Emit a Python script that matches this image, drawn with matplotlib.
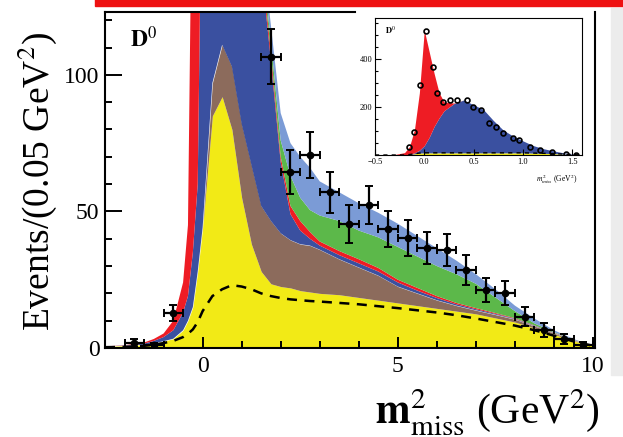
import matplotlib
matplotlib.use("Agg")
import matplotlib.pyplot as plt
import numpy as np
from matplotlib.patches import Rectangle

plt.rcParams['font.family'] = 'serif'
plt.rcParams['font.serif'] = ['Liberation Serif', 'DejaVu Serif']
plt.rcParams['mathtext.fontset'] = 'stix'

# missing-mass-squared grid (GeV^2) for the fitted components
m2_grid = [-2.5, -2.0, -1.5, -1.25, -1.0, -0.75, -0.5, -0.375, -0.25, -0.125,
           0.0, 0.25, 0.5, 0.75, 1.0, 1.25, 1.5, 1.75, 2.0, 2.25, 2.5, 2.75,
           3.0, 3.5, 4.0, 4.5, 5.0, 5.5, 6.0, 6.5, 7.0, 7.5, 8.0, 8.5, 9.0,
           9.5, 10.0]

# stacked fit components, bottom to top
comb_bkg = [0.6, 0.8, 1.2, 1.7, 2.5, 3.4, 6.5, 10.0, 15.0, 28.0, 44.0, 85.0,
            92.0, 80.0, 55.0, 38.0, 28.0, 23.5, 22.5, 22.0, 21.0, 20.5, 20.0,
            19.5, 18.5, 17.5, 16.5, 15.5, 14.5, 13.5, 12.5, 11.0, 9.5, 7.3,
            5.0, 2.6, 0.8]
other_bkg = [0, 0, 0, 0, 0, 0, 0, 0, 0, 0, 0, 12, 19, 23, 27, 29, 24, 23,
             19.5, 17.5, 17, 17, 16, 13, 11, 9, 6, 4.5, 3, 2, 1.3, 1.2, 1.0,
             0.7, 0.4, 0.2, 0]
d_lnu = [0, 0.1, 0.4, 0.9, 1.5, 3.1, 6.5, 9, 20, 32, 156, 203, 209, 197, 178,
         133, 88, 58.5, 26, 9.5, 5, 2.5, 1.5, 1.5, 1.5, 1.5, 1.5, 1.0, 0.8,
         0.5, 0.4, 0.3, 0.2, 0.2, 0.1, 0, 0]
dstar_lnu = [0, 0.1, 0.4, 0.7, 1.3, 3.5, 11, 26, 165, 200, 100, 40, 30, 30,
             30, 30, 3, 3, 2, 3, 3.5, 2.5, 1.5, 1.5, 1.5, 1.3, 1.0, 1.0, 0.7,
             0.5, 0.4, 0.3, 0.2, 0.1, 0.1, 0.1, 0]
d_taunu = [0, 0, 0, 0, 0, 0, 0, 0, 0, 0, 0, 0, 0, 0, 0, 0, 3, 4, 6, 11, 8.5,
           8, 9.5, 11, 10.5, 11.2, 12, 11.5, 11, 10.5, 8.9, 5.7, 2.6, 0.7,
           0.2, 0.1, 0]
dstar_taunu = [0, 0, 0, 0, 0, 0, 0, 0, 0, 0, 0, 0, 0, 0, 0, 0, 4, 6, 10, 12,
               15, 15.5, 12.5, 10.5, 10, 9, 8.5, 7.5, 6.5, 5, 3.5, 3, 2, 1.8,
               0.7, 0.3, 0]
comb_dashed = [0.3, 0.4, 0.8, 1.2, 1.8, 2.6, 4.0, 5.2, 6.8, 9.5, 13.5, 19.0,
               21.5, 23.0, 22.5, 21.5, 20.0, 19.0, 18.3, 17.8, 17.5, 17.2,
               17.0, 16.5, 16.0, 15.3, 14.6, 13.8, 13.0, 12.0, 10.8, 9.5, 8.2,
               6.5, 4.5, 2.4, 0.8]

# data points (0.5 GeV^2 bins)
data_x = [-1.75, -1.25, -0.75, 1.75, 2.25, 2.75, 3.25, 3.75, 4.25, 4.75,
          5.25, 5.75, 6.25, 6.75, 7.25, 7.75, 8.25, 8.75, 9.25, 9.75]
data_y = [1.8, 1.0, 12.8, 106.6, 64.5, 70.7, 57.0, 45.4, 52.4, 43.6, 40.3,
          36.6, 35.9, 28.6, 21.2, 20.1, 11.4, 6.6, 3.3, 1.1]
data_err = [1.5, 1.0, 3.0, 10.0, 8.0, 8.5, 7.5, 7.0, 7.0, 6.5, 6.5, 6.0, 6.0,
            5.5, 4.5, 4.5, 3.5, 2.5, 2.0, 1.0]

# inset: signal region zoom
in_x = [-0.5, -0.3, -0.2, -0.15, -0.1, -0.05, 0.0, 0.05, 0.1, 0.15, 0.2, 0.3,
        0.4, 0.5, 0.6, 0.7, 0.8, 0.9, 1.0, 1.1, 1.2, 1.3, 1.4, 1.5, 1.6]
in_blue = [0, 0, 0, 1, 4, 12, 30, 65, 110, 145, 175, 205, 220, 200, 180, 135,
           95, 70, 50, 32, 20, 12, 6, 2, 0]
in_red = [0, 2, 10, 32, 96, 238, 480, 355, 220, 105, 37, 2, 0, 0, 0, 0, 0, 0,
          0, 0, 0, 0, 0, 0, 0]
in_bkg = [0, 0, 0, 2, 5, 8, 9, 9, 9, 9, 9, 9, 9, 9, 9, 9, 9, 9, 9, 8, 7, 6,
          4, 2, 0]
in_data_x = [-0.16, -0.1, -0.04, 0.015, 0.09, 0.13, 0.19, 0.26, 0.33, 0.43,
             0.49, 0.58, 0.66, 0.73, 0.8, 0.9, 0.96, 1.07, 1.17, 1.3, 1.44,
             1.54]
in_data_y = [35, 97, 292, 514, 368, 257, 222, 229, 229, 229, 201, 187, 132,
             118, 90, 69, 62, 35, 21, 14, 4, 1]

colors = ['#f2ea16', '#8c6b5c', '#3a50a0', '#ee1c24', '#5cb84a', '#7b9bd6']

fig = plt.figure(figsize=(6.23, 4.37), dpi=100)
ax = fig.add_axes([105 / 623, 1 - 348 / 437, 490 / 623, 336 / 437])

x = np.array(m2_grid)
layers = [comb_bkg, other_bkg, d_lnu, dstar_lnu, d_taunu, dstar_taunu]
base = np.zeros_like(x)
for vals, c in zip(layers, colors):
    top = base + np.array(vals)
    ax.fill_between(x, base, top, color=c, linewidth=0)
    base = top

ax.plot(x, comb_dashed, color='black', linestyle=(0, (4, 3)), linewidth=1.8)
ax.errorbar(data_x, data_y, xerr=0.25, yerr=data_err, fmt='o', color='black',
            markersize=4.5, elinewidth=1.6, capsize=3, capthick=1.4, zorder=5)

ax.set_xlim(-2.5, 10.05)
ax.set_ylim(0, 123)
ax.set_xticks([0, 5, 10])
ax.set_xticks(np.arange(-2, 11, 1), minor=True)
ax.set_yticks([0, 50, 100])
ax.set_yticks(np.arange(0, 121, 10), minor=True)
ax.tick_params(axis='both', which='both', direction='in', labelsize=17,
               width=1.4, colors='black')
ax.tick_params(axis='y', which='major', length=12, pad=4)
ax.tick_params(axis='y', which='minor', length=5)
ax.tick_params(axis='x', which='major', length=8, pad=6)
ax.tick_params(axis='x', which='minor', length=5)
for s in ax.spines.values():
    s.set_linewidth(1.5)
ax.spines['top'].set_bounds(-2.5, 3.9)

ax.text(0.05, 0.895, r'$\mathbf{D}^{0}$', transform=ax.transAxes,
        fontsize=17, va='baseline')

fig.text(37 / 623, 1 - 181 / 437, r'Events/(0.05 GeV$^{2}$)', rotation=90,
         ha='center', va='center', fontsize=27)
fig.text(375 / 623, 1 - 425 / 437,
         r'$\mathbf{m}^{2}_{\mathrm{miss}}$ (GeV$^{2}$)',
         ha='left', va='baseline', fontsize=30)

# inset
ins = fig.add_axes([375 / 623, 1 - 155 / 437, 207 / 623, 137 / 437])
xi = np.array(in_x)
b1 = np.array(in_bkg)
b2 = b1 + np.array(in_blue)
b3 = b2 + np.array(in_red)
ins.fill_between(xi, 0, b1, color=colors[0], linewidth=0)
ins.fill_between(xi, b1, b2, color=colors[2], linewidth=0)
ins.fill_between(xi, b2, b3, color=colors[3], linewidth=0)
ins.plot(xi, b1, color='black', linestyle=(0, (3, 3)), linewidth=1.0)
ins.plot(in_data_x, in_data_y, 'o', mfc='none', mec='black', ms=3.5, mew=1.2)
ins.set_xlim(-0.5, 1.6)
ins.set_ylim(0, 570)
ins.set_xticks([-0.5, 0, 0.5, 1, 1.5])
ins.set_yticks([200, 400])
ins.set_yticks(np.arange(0, 551, 50), minor=True)
ins.tick_params(axis='both', which='both', direction='in', labelsize=6,
                width=0.8, pad=2)
ins.tick_params(which='major', length=4)
ins.tick_params(which='minor', length=2)
ins.text(0.05, 0.88, r'$\mathbf{D}^{0}$', transform=ins.transAxes, fontsize=6)
fig.text(578 / 623, 1 - 182 / 437, r'$m^{2}_{miss}$ (GeV$^{2}$)', ha='right',
         va='baseline', fontsize=5.5)

# red banner edge and grey margin strip
fig.patches.append(Rectangle((95 / 623, 1 - 6 / 437), 1, 0.05,
                             transform=fig.transFigure, color='#ee1111'))
fig.patches.append(Rectangle((611 / 623, 1 - 375 / 437), 12 / 623, 367 / 437,
                             transform=fig.transFigure, color='#ececec',
                             zorder=-1))

fig.savefig('out.png', dpi=100)
